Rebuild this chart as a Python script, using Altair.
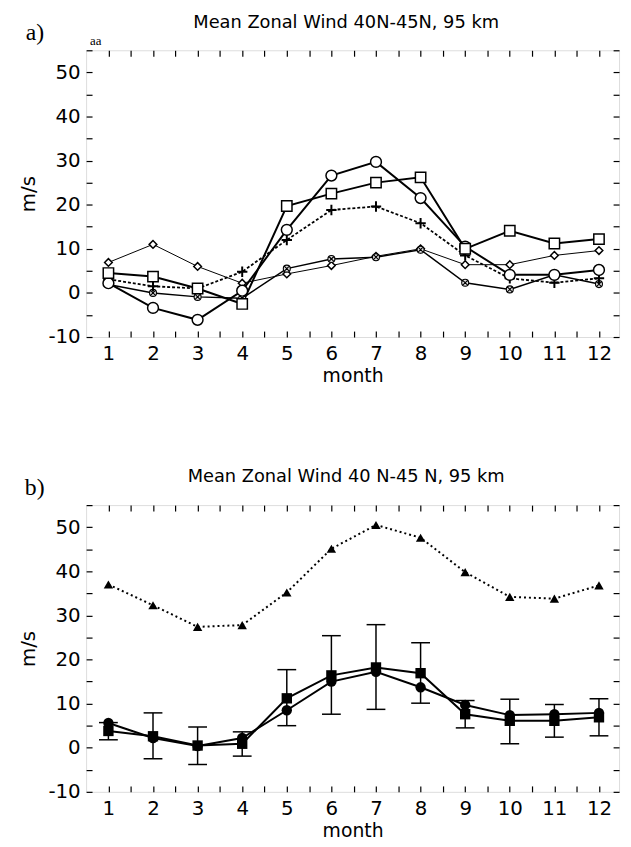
import altair as alt
import pandas as pd

months = list(range(1, 13))

# ---- panel a series (m/s) ----
a_circle = [2.2, -3.4, -6.1, 0.5, 14.3, 26.6, 29.7, 21.5, 10.5, 4.1, 4.1, 5.2]
a_square = [4.5, 3.7, 1.0, -2.5, 19.7, 22.5, 25.0, 26.2, 10.0, 14.1, 11.2, 12.2]
a_diamond = [6.9, 11.0, 6.0, 2.2, 4.3, 6.2, 8.3, 10.0, 6.4, 6.4, 8.5, 9.6]
a_plus = [3.1, 1.5, 1.0, 4.8, 12.0, 18.8, 19.6, 15.8, 8.5, 3.3, 2.3, 3.3]
a_cx = [1.9, 0.0, -0.9, -1.2, 5.5, 7.7, 8.1, 9.8, 2.3, 0.8, 4.1, 2.0]

# ---- panel b series (m/s) ----
b_triangle = [37.0, 32.3, 27.4, 27.8, 35.2, 45.1, 50.5, 47.6, 39.8, 34.2, 33.8, 36.8]
b_circle = [5.6, 2.2, 0.4, 2.2, 8.5, 15.0, 17.2, 13.7, 9.7, 7.4, 7.6, 7.9]
b_square = [3.8, 2.6, 0.5, 0.9, 11.2, 16.4, 18.2, 16.9, 7.6, 6.1, 6.1, 6.9]
b_err_lo = [1.8, -2.5, -3.8, -1.9, 5.0, 7.6, 8.7, 10.1, 4.5, 0.9, 2.4, 2.7]
b_err_hi = [5.7, 7.9, 4.7, 3.6, 17.7, 25.4, 27.9, 23.8, 10.7, 11.0, 9.8, 11.1]

title_a = "Mean Zonal Wind 40N-45N, 95 km"
title_b = "Mean Zonal Wind 40 N-45 N, 95 km"
x_tick_values = [1 + 0.5 * i for i in range(23)]
y_tick_values = list(range(-10, 56, 5))

FONT = "DejaVu Sans"
SERIF = "Liberation Serif"
W, H = 539, 290
TS = 6  # inward tick length

xscale = alt.Scale(domain=[0.5, 12.45], nice=False, zero=False)
yscale = alt.Scale(domain=[-10, 55], nice=False, zero=False)

ax_bottom = alt.Axis(orient="bottom", values=x_tick_values,
                     labelExpr="datum.value % 1 == 0 ? '' + datum.value : ''",
                     tickSize=TS, offset=-TS, domain=False, grid=False,
                     labelFontSize=20, labelPadding=7, labelFont=FONT, labelColor="black",
                     tickColor="black", tickWidth=1.2,
                     title="month", titleFontSize=19, titleFont=FONT,
                     titleFontWeight="normal", titlePadding=3, titleColor="black")
ax_top = alt.Axis(orient="top", values=x_tick_values, labels=False, title=None,
                  tickSize=TS, offset=-TS, domain=False, grid=False,
                  tickColor="black", tickWidth=1.2)
ax_left = alt.Axis(orient="left", values=y_tick_values,
                   labelExpr="datum.value % 10 == 0 ? (datum.value < 0 ? '-' + abs(datum.value) : '' + datum.value) : ''",
                   tickSize=TS, offset=-TS, domain=False, grid=False,
                   labelFontSize=20, labelPadding=6, labelFont=FONT, labelColor="black",
                   tickColor="black", tickWidth=1.2,
                   title="m/s", titleFontSize=20, titleFont=FONT,
                   titleFontWeight="normal", titlePadding=10, titleColor="black")
ax_right = alt.Axis(orient="right", values=y_tick_values, labels=False, title=None,
                    tickSize=TS, offset=-TS, domain=False, grid=False,
                    tickColor="black", tickWidth=1.2)

PLUS = "M-1,0L1,0M0,-1L0,1"
CIRCX = "M1,0A1,1,0,1,1,-1,0A1,1,0,1,1,1,0M-0.7,-0.7L0.7,0.7M-0.7,0.7L0.7,-0.7"


def X(axis=None):
    return alt.X("month:Q", scale=xscale, axis=axis)


def Y(field, axis=None):
    return alt.Y(f"{field}:Q", scale=yscale, axis=axis)


def label(txt, x, y, size, font=SERIF, align="left"):
    return alt.Chart(alt.Data(values=[{"t": txt}])).mark_text(
        font=font, fontSize=size, align=align, baseline="middle", color="black"
    ).encode(text="t:N", x=alt.value(x), y=alt.value(y))


# ---------- panel a ----------
dfa = pd.DataFrame({"month": months, "circle": a_circle, "square": a_square,
                    "diamond": a_diamond, "plus": a_plus, "cx": a_cx})
ba = alt.Chart(dfa)

a_layers = [
    ba.mark_line(color="black", strokeWidth=1).encode(x=X(ax_bottom), y=Y("diamond", ax_left)),
    ba.mark_line(color="black", strokeWidth=1.5).encode(x=X(ax_top), y=Y("cx", ax_right)),
    ba.mark_line(color="black", strokeWidth=1.8, strokeDash=[3, 2]).encode(x=X(), y=Y("plus")),
    ba.mark_line(color="black", strokeWidth=2).encode(x=X(), y=Y("circle")),
    ba.mark_line(color="black", strokeWidth=2).encode(x=X(), y=Y("square")),
    ba.mark_point(shape="diamond", filled=True, fill="white", stroke="black",
                  strokeWidth=1.5, size=60, opacity=1).encode(x=X(), y=Y("diamond")),
    ba.mark_point(shape=CIRCX, filled=True, fill="#dddddd", stroke="black", strokeWidth=1.1,
                  size=50, opacity=1).encode(x=X(), y=Y("cx")),
    ba.mark_point(shape=PLUS, filled=False, stroke="black", strokeWidth=2,
                  size=110, opacity=1).encode(x=X(), y=Y("plus")),
    ba.mark_point(shape="circle", filled=True, fill="white", stroke="black",
                  strokeWidth=1.5, size=120, opacity=1).encode(x=X(), y=Y("circle")),
    ba.mark_point(shape="square", filled=True, fill="white", stroke="black",
                  strokeWidth=1.5, size=110, opacity=1).encode(x=X(), y=Y("square")),
    label(title_a, 263, -28, 18, font=FONT, align="center"),
    label("a)", -61, -17, 24),
    label("aa", 4, -9, 13),
]

panel_a = alt.layer(*a_layers).resolve_axis(x="independent", y="independent").properties(
    width=W, height=H)

# ---------- panel b ----------
dfb = pd.DataFrame({"month": months, "tri": b_triangle, "circle": b_circle,
                    "square": b_square, "lo": b_err_lo, "hi": b_err_hi})
bb = alt.Chart(dfb)

b_layers = [
    bb.mark_rule(color="black", strokeWidth=1.5).encode(
        x=X(ax_bottom), y=Y("lo", ax_left), y2="hi:Q"),
    bb.mark_tick(orient="horizontal", color="black", size=19, thickness=1.5, opacity=1).encode(
        x=X(ax_top), y=Y("lo", ax_right)),
    bb.mark_tick(orient="horizontal", color="black", size=19, thickness=1.5, opacity=1).encode(
        x=X(), y=Y("hi")),
    bb.mark_line(color="black", strokeWidth=2).encode(x=X(), y=Y("circle")),
    bb.mark_line(color="black", strokeWidth=2).encode(x=X(), y=Y("square")),
    bb.mark_line(color="black", strokeWidth=2, strokeDash=[2, 3]).encode(x=X(), y=Y("tri")),
    bb.mark_point(shape="circle", filled=True, color="black", size=110, opacity=1).encode(
        x=X(), y=Y("circle")),
    bb.mark_point(shape="square", filled=True, color="black", size=110, opacity=1).encode(
        x=X(), y=Y("square")),
    bb.mark_point(shape="triangle-up", filled=True, color="black", size=90, opacity=1).encode(
        x=X(), y=Y("tri")),
    label(title_b, 263, -28, 18, font=FONT, align="center"),
    label("b)", -62, -17, 24),
]

panel_b = alt.layer(*b_layers).resolve_axis(x="independent", y="independent").properties(
    width=W, height=H)

chart = alt.vconcat(panel_a, panel_b, spacing=82).properties(
    padding={"left": 9, "top": 0, "right": 2, "bottom": 0}
).configure_view(stroke="black", strokeWidth=1.5).configure(background="white")

chart.save("out.html", embed_options={"renderer": "svg", "actions": False})
